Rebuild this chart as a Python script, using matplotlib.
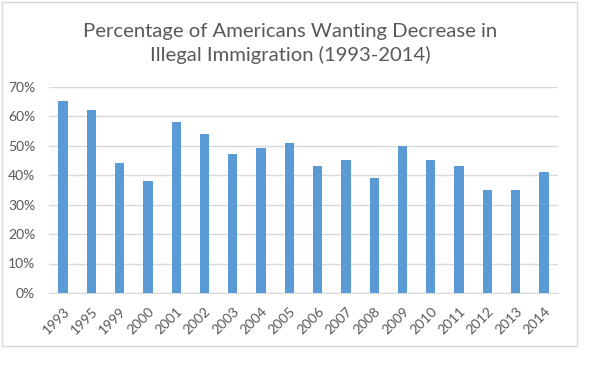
import matplotlib
matplotlib.use("Agg")
import matplotlib.pyplot as plt
from matplotlib.patches import Rectangle
from matplotlib.ticker import FuncFormatter

years = ["1993", "1995", "1999", "2000", "2001", "2002", "2003", "2004", "2005",
         "2006", "2007", "2008", "2009", "2010", "2011", "2012", "2013", "2014"]
values = [65, 62, 44, 38, 58, 54, 47, 49, 51, 43, 45, 39, 50, 45, 43, 35, 35, 41]
title = "Percentage of Americans Wanting Decrease in\nIllegal Immigration (1993-2014)"

W, H = 606, 365
fig = plt.figure(figsize=(W / 100, H / 100), dpi=100)
fig.patch.set_facecolor("white")

# chart border
fig.patches.append(Rectangle((1.5 / W, 1 - 345.5 / H), (577 - 1.5) / W, (345.5 - 1.5) / H,
                             transform=fig.transFigure, fill=False,
                             edgecolor="#D9D9D9", linewidth=1.0))

ax = fig.add_axes([49 / W, 1 - 293 / H, (558 - 49) / W, (293 - 86.5) / H])
x = list(range(len(years)))
ax.bar(x, values, width=0.33, color="#5B9BD5", zorder=3)
ax.set_xlim(-0.5, len(years) - 0.5)
ax.set_ylim(0, 70)
ax.set_yticks(range(0, 71, 10))
ax.yaxis.set_major_formatter(FuncFormatter(lambda v, p: f"{int(v)}%"))
ax.grid(axis="y", color="#D9D9D9", linewidth=1.0, zorder=0)
for s in ["top", "right", "left"]:
    ax.spines[s].set_visible(False)
ax.spines["bottom"].set_color("#D9D9D9")
ax.tick_params(axis="y", length=0, pad=10, labelsize=10, labelcolor="#595959")
ax.tick_params(axis="x", length=0, pad=9, labelsize=10, labelcolor="#595959")
ax.set_xticks(x)
ax.set_xticklabels(years, rotation=45, ha="right", rotation_mode="anchor")
for lab in ax.get_xticklabels() + ax.get_yticklabels():
    lab.set_family("Lato")

fig.text(290 / W, 1 - 43.5 / H, title, ha="center", va="center", fontsize=14.6,
         color="#595959", family="Lato", linespacing=1.35)

fig.savefig("out.png", dpi=100)
